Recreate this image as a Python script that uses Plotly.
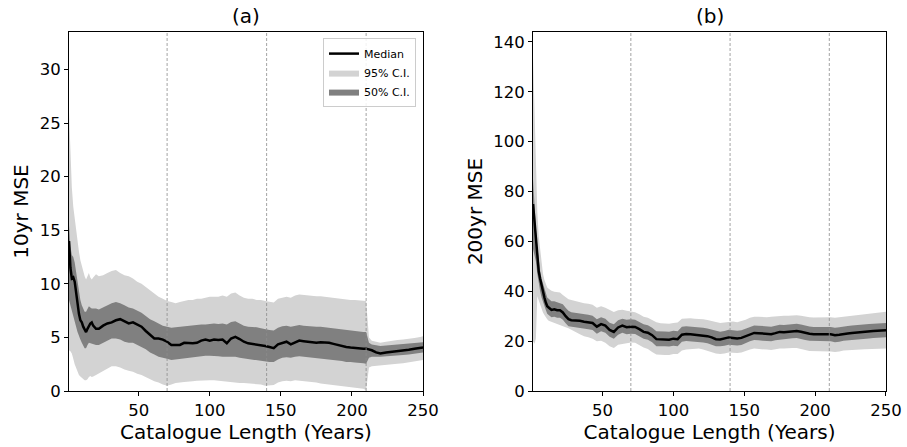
import plotly.graph_objects as go

# ---------------- Panel (a): 10yr MSE ----------------
xa = [1, 2, 3, 4, 5, 6, 7, 8, 9, 10,
      11, 12, 13, 14, 15, 16, 17, 18, 20, 22,
      25, 28, 31, 34, 37, 40, 43, 46, 49, 52,
      55, 58, 61, 64, 67, 70, 73, 76, 79, 82,
      85, 88, 91, 94, 97, 100, 103, 106, 109, 112,
      115, 118, 121, 124, 127, 130, 133, 136, 139, 142,
      145, 148, 151, 154, 157, 160, 163, 166, 169, 172,
      175, 178, 181, 184, 187, 190, 193, 196, 199, 202,
      205, 208, 210, 212, 214, 217, 220, 224, 228, 232,
      236, 240, 244, 248, 250]
med_a = [14.0, 11.5, 10.5, 10.6, 10.2, 9.0, 8.0, 7.2, 6.6, 6.4,
         6.0, 5.7, 5.5, 5.8, 6.1, 6.3, 6.4, 6.1, 5.8, 5.8,
         6.1, 6.3, 6.4, 6.6, 6.7, 6.5, 6.3, 6.4, 6.2, 6.0,
         5.6, 5.2, 4.9, 4.9, 4.8, 4.6, 4.3, 4.3, 4.3, 4.5,
         4.45, 4.45, 4.5, 4.7, 4.8, 4.7, 4.8, 4.75, 4.8, 4.45,
         4.9, 5.05, 4.85, 4.6, 4.45, 4.4, 4.35, 4.3, 4.2, 4.1,
         4.0, 4.35, 4.45, 4.6, 4.35, 4.55, 4.7, 4.65, 4.6, 4.55,
         4.5, 4.55, 4.55, 4.5, 4.4, 4.3, 4.15, 4.1, 4.05, 4.0,
         3.95, 3.95, 3.95, 3.9, 3.8, 3.6, 3.5, 3.6, 3.65, 3.7,
         3.8, 3.85, 3.95, 4.0, 4.05]
hi95_a = [26.0, 21.5, 19.0, 17.2, 16.0, 15.0, 14.0, 13.0, 12.2, 11.6,
          11.0, 10.7, 10.4, 10.8, 11.0, 10.6, 10.4, 10.6, 10.9, 10.7,
          10.8, 11.0, 11.2, 11.3, 11.0, 10.8, 10.7, 10.5, 10.2, 10.0,
          9.7, 9.4, 9.1, 8.8, 8.6, 8.4, 8.3, 8.2, 8.3, 8.4,
          8.5, 8.5, 8.6, 8.6, 8.7, 8.8, 8.8, 8.8, 8.9, 8.8,
          9.1, 9.2, 8.9, 8.7, 8.6, 8.6, 8.5, 8.5, 8.4, 8.3,
          8.25, 8.6, 8.7, 8.8, 8.7, 8.9, 9.0, 8.95, 8.9, 8.9,
          8.85, 8.85, 8.8, 8.75, 8.7, 8.6, 8.6, 8.55, 8.5, 8.5,
          8.45, 8.45, 8.4, 5.0, 4.7, 4.6, 4.5, 4.6, 4.7, 4.75,
          4.8, 4.85, 4.95, 5.05, 5.1]
lo95_a = [3.8, 3.7, 3.5, 3.0, 2.5, 2.1, 1.8, 1.5, 1.35, 1.2,
          1.1, 1.0, 1.0, 1.1, 1.3, 1.4, 1.3, 1.35, 1.5, 1.7,
          1.9, 2.1, 2.3, 2.3, 2.2, 2.0, 1.9, 1.8, 1.6, 1.5,
          1.3, 1.1, 0.9, 0.8, 0.6, 0.5, 0.6, 0.75, 0.8, 0.85,
          0.9, 0.9, 0.95, 0.95, 1.0, 1.0, 1.0, 0.95, 0.9, 0.85,
          0.8, 0.8, 0.75, 0.75, 0.7, 0.7, 0.65, 0.6, 0.5, 0.5,
          0.55, 0.8, 0.9, 0.95, 0.9, 1.0, 1.0, 0.95, 0.9, 0.85,
          0.8, 0.7, 0.6, 0.55, 0.5, 0.45, 0.4, 0.35, 0.3, 0.3,
          0.25, 0.2, 0.1, 2.2, 2.3, 2.35, 2.4, 2.45, 2.5, 2.55,
          2.6, 2.65, 2.75, 2.85, 2.9]
hi50_a = [15.5, 13.5, 12.7, 12.5, 12.0, 11.0, 10.0, 9.1, 8.5, 8.0,
          7.7, 7.4, 7.4, 7.7, 7.9, 7.8, 7.7, 7.7, 7.7, 7.6,
          7.8, 8.0, 8.2, 8.3, 8.2, 8.0, 7.8, 7.7, 7.5, 7.3,
          7.0, 6.7, 6.5, 6.3, 6.1, 6.0, 5.9, 5.95, 6.0, 6.05,
          6.1, 6.1, 6.15, 6.2, 6.2, 6.25, 6.3, 6.25, 6.3, 6.2,
          6.45, 6.5, 6.3, 6.1, 6.0, 6.0, 5.95, 5.85, 5.75, 5.7,
          5.65, 5.9, 6.05, 6.1, 6.0, 6.1, 6.15, 6.1, 6.05, 6.0,
          6.0, 6.0, 5.95, 5.9, 5.85, 5.8, 5.7, 5.65, 5.6, 5.6,
          5.55, 5.5, 5.5, 4.5, 4.35, 4.25, 4.2, 4.25, 4.3, 4.3,
          4.35, 4.4, 4.45, 4.5, 4.55]
lo50_a = [8.5, 8.0, 7.5, 7.0, 6.5, 6.0, 5.5, 5.1, 4.8, 4.5,
          4.2, 4.0, 4.0, 4.3, 4.5, 4.5, 4.4, 4.4, 4.3, 4.3,
          4.5, 4.7, 4.9, 4.9, 4.8, 4.6, 4.5, 4.5, 4.3, 4.1,
          3.9, 3.6, 3.4, 3.2, 3.1, 3.0, 2.9, 2.9, 2.95, 3.05,
          3.1, 3.15, 3.2, 3.25, 3.3, 3.3, 3.3, 3.25, 3.2, 3.15,
          3.2, 3.2, 3.1, 3.0, 2.95, 2.9, 2.85, 2.8, 2.75, 2.7,
          2.7, 2.95, 3.1, 3.15, 3.1, 3.2, 3.25, 3.2, 3.15, 3.1,
          3.05, 3.0, 3.0, 2.95, 2.9, 2.85, 2.8, 2.7, 2.7, 2.65,
          2.6, 2.6, 2.55, 3.1, 3.2, 3.2, 3.2, 3.25, 3.3, 3.3,
          3.35, 3.4, 3.45, 3.55, 3.6]

# ---------------- Panel (b): 200yr MSE ----------------
xb = [1, 2, 3, 4, 5, 6, 7, 8, 9, 10,
      11, 12, 14, 16, 18, 20, 22, 24, 26, 28,
      31, 34, 37, 40, 43, 46, 49, 52, 55, 58,
      61, 64, 67, 70, 73, 76, 79, 82, 85, 88,
      91, 94, 97, 100, 103, 106, 109, 112, 115, 118,
      121, 124, 127, 130, 133, 136, 139, 142, 145, 148,
      151, 154, 157, 160, 163, 166, 169, 172, 175, 178,
      181, 184, 187, 190, 193, 196, 199, 202, 205, 208,
      211, 214, 217, 220, 223, 226, 229, 232, 235, 238,
      241, 244, 247, 250]
med_b = [75, 68, 60, 53, 48, 45, 42, 39.5, 37.5, 35.5,
         34, 33.5, 32.5, 32.8, 32.4, 32.4, 31.5, 30, 28.8, 28.4,
         28.4, 28.2, 27.8, 27.6, 27.3, 25.8, 26.8, 26.2, 24.5, 23.7,
         25.5, 26.2, 25.6, 25.8, 25.7, 24.8, 23.7, 23.4, 22.4, 20.8,
         20.7, 20.8, 20.6, 21.0, 20.8, 22.6, 22.9, 22.8, 22.6, 22.4,
         22.3, 22.0, 21.5, 20.8, 20.7, 21.0, 21.5, 21.3, 21.1, 21.3,
         22.0, 22.8, 23.3, 23.2, 23.0, 22.8, 22.8, 23.2, 23.7, 23.6,
         23.8, 24.0, 24.1, 23.8, 23.3, 23.0, 22.8, 22.9, 22.8, 22.8,
         22.8, 22.4, 22.6, 23.0, 23.1, 23.3, 23.5, 23.7, 23.8, 23.9,
         24.1, 24.2, 24.4, 24.4]
hi95_b = [134, 110, 88, 72, 62, 56, 51, 47, 44.5, 42.5,
          41.5, 41, 40.2, 39.8, 39.7, 39.5, 38.5, 37.5, 36.8, 36.5,
          36.0, 35.6, 35.2, 35.0, 34.6, 33.4, 34.0, 33.4, 32.4, 31.7,
          32.4, 32.6, 32.2, 31.8, 31.6, 30.8, 29.8, 29.4, 28.6, 27.6,
          27.2, 27.0, 27.0, 27.3, 27.5, 29.0, 29.2, 29.2, 29.0, 29.0,
          28.8, 28.5, 28.0, 27.5, 27.3, 27.5, 27.8, 27.9, 27.6, 28.0,
          28.6, 29.4, 29.8, 29.8, 29.6, 29.6, 29.8, 30.0, 30.2, 30.2,
          30.2, 30.4, 30.4, 30.2, 29.8, 29.6, 29.5, 29.6, 29.5, 29.5,
          29.6, 29.4, 29.6, 29.9, 30.1, 30.3, 30.6, 30.8, 31.0, 31.2,
          31.4, 31.6, 31.7, 31.8]
lo95_b = [20, 19, 21, 38, 36, 34.5, 33, 31.5, 30.5, 29.5,
          28.8, 28.2, 27.6, 27.2, 26.8, 26.4, 26, 25.6, 25.2, 24.6,
          23.8, 22.8, 22.0, 21.6, 21.0, 20.0, 20.2, 19.4, 18.0, 17.2,
          18.6, 19.0, 19.2, 19.5, 19.4, 18.4, 17.4, 16.8, 15.6, 14.6,
          14.4, 14.4, 14.4, 14.8, 14.8, 16.2, 16.6, 16.8, 16.9, 17.0,
          16.6, 16.0, 15.6, 15.0, 14.8, 15.0, 15.4, 15.4, 15.2, 15.4,
          16.0, 16.6, 17.0, 17.0, 16.8, 16.6, 16.4, 16.6, 17.0, 17.0,
          17.0, 17.2, 17.2, 16.8, 16.4, 16.0, 15.8, 15.9, 15.8, 15.8,
          15.8, 15.6, 15.8, 16.2, 16.3, 16.4, 16.5, 16.6, 16.7, 16.8,
          16.9, 17.0, 17.0, 17.0]
hi50_b = [85, 74, 65, 58, 52, 48, 45, 43, 41, 39,
          37.5, 37, 36, 36, 35.6, 35.4, 34.8, 33.4, 32.2, 31.6,
          31.4, 31.2, 30.8, 30.6, 30.2, 28.8, 29.6, 29.0, 27.4, 26.8,
          28.4, 29.0, 28.6, 28.8, 28.6, 27.8, 26.8, 26.4, 25.4, 24.0,
          23.8, 23.9, 23.8, 24.2, 24.0, 25.8, 26.0, 25.9, 25.8, 25.6,
          25.4, 25.1, 24.6, 24.0, 23.8, 24.1, 24.6, 24.4, 24.2, 24.4,
          25.0, 25.8, 26.3, 26.2, 26.0, 25.8, 25.8, 26.2, 26.6, 26.5,
          26.7, 26.9, 27.0, 26.7, 26.2, 25.9, 25.7, 25.8, 25.7, 25.7,
          25.7, 25.4, 25.6, 26.0, 26.1, 26.3, 26.5, 26.7, 26.8, 26.9,
          27.0, 27.1, 27.3, 27.3]
lo50_b = [57, 55, 52, 47, 43, 40, 37.5, 35.5, 34, 32.5,
          31, 30.5, 29.6, 29.8, 29.4, 29.4, 28.6, 27.2, 26.0, 25.6,
          25.6, 25.4, 25.0, 24.8, 24.5, 23.0, 24.0, 23.4, 21.8, 21.0,
          22.6, 23.4, 22.8, 23.0, 22.9, 22.0, 21.0, 20.6, 19.6, 18.0,
          17.9, 18.0, 17.8, 18.2, 18.0, 19.8, 20.1, 20.0, 19.8, 19.6,
          19.5, 19.2, 18.7, 18.0, 17.9, 18.2, 18.6, 18.5, 18.3, 18.5,
          19.2, 20.0, 20.5, 20.4, 20.2, 20.0, 20.0, 20.4, 20.9, 20.8,
          21.0, 21.2, 21.3, 21.0, 20.5, 20.2, 20.0, 20.1, 20.0, 20.0,
          20.0, 19.6, 19.8, 20.2, 20.3, 20.5, 20.7, 20.9, 21.0, 21.1,
          21.3, 21.4, 21.6, 21.6]

vlines = [70, 140, 210]
xticks = [50, 100, 150, 200, 250]
yticks_a = [0, 5, 10, 15, 20, 25, 30]
yticks_b = [0, 20, 40, 60, 80, 100, 120, 140]

LIGHT = "#d3d3d3"
DARK = "#808080"
FONT = "DejaVu Sans"

fig = go.Figure()


def add_panel(x, med, hi95, lo95, hi50, lo50, xa_name, ya_name, show):
    fig.add_trace(go.Scatter(
        x=list(x) + list(x)[::-1], y=list(hi95) + list(lo95)[::-1],
        fill="toself", fillcolor=LIGHT, line=dict(width=0),
        mode="lines", name="95% C.I.", showlegend=show, legendrank=2,
        xaxis=xa_name, yaxis=ya_name, hoverinfo="skip"))
    fig.add_trace(go.Scatter(
        x=list(x) + list(x)[::-1], y=list(hi50) + list(lo50)[::-1],
        fill="toself", fillcolor=DARK, line=dict(width=0),
        mode="lines", name="50% C.I.", showlegend=show, legendrank=3,
        xaxis=xa_name, yaxis=ya_name, hoverinfo="skip"))
    fig.add_trace(go.Scatter(
        x=x, y=med, mode="lines", line=dict(color="black", width=2.5),
        name="Median", showlegend=show, legendrank=1,
        xaxis=xa_name, yaxis=ya_name))


add_panel(xa, med_a, hi95_a, lo95_a, hi50_a, lo50_a, "x", "y", True)
add_panel(xb, med_b, hi95_b, lo95_b, hi50_b, lo50_b, "x2", "y2", False)

for xref, yref in (("x", "y domain"), ("x2", "y2 domain")):
    for v in vlines:
        fig.add_shape(type="line", xref=xref, yref=yref, x0=v, x1=v, y0=0, y1=1,
                      line=dict(color="#8c8c8c", width=0.8, dash="3px,2px"),
                      layer="above")

axis_common = dict(
    showline=True, linecolor="black", linewidth=1, mirror=True,
    ticks="outside", ticklen=4, tickwidth=1, tickcolor="black",
    showgrid=False, zeroline=False, automargin=False,
    tickfont=dict(family=FONT, size=16.5, color="black"),
)

fig.update_layout(
    width=907, height=447,
    margin=dict(l=69, r=21, t=32, b=56, autoexpand=False),
    paper_bgcolor="white", plot_bgcolor="white",
    font=dict(family=FONT, color="black"),
    xaxis=dict(domain=[0, 0.4333], range=[1, 250], tickvals=xticks,
               title=dict(text="Catalogue Length (Years)", font=dict(size=20), standoff=2),
               anchor="y", **axis_common),
    yaxis=dict(domain=[0, 1], range=[0, 33.5], tickvals=yticks_a,
               title=dict(text="10yr MSE", font=dict(size=20), standoff=5),
               anchor="x", **axis_common),
    xaxis2=dict(domain=[0.568, 1], range=[1, 250], tickvals=xticks,
                title=dict(text="Catalogue Length (Years)", font=dict(size=20), standoff=2),
                anchor="y2", **axis_common),
    yaxis2=dict(domain=[0, 1], range=[0, 144], tickvals=yticks_b,
                title=dict(text="200yr MSE", font=dict(size=20), standoff=5),
                anchor="x2", **axis_common),
    legend=dict(x=0.4247, y=0.983, xanchor="right", yanchor="top",
                bgcolor="rgba(255,255,255,0.85)", bordercolor="#cccccc", borderwidth=1,
                font=dict(family=FONT, size=11, color="black"),
                tracegroupgap=0, itemwidth=30),
    showlegend=True,
    annotations=[
        dict(text="(a)", x=0.21665, y=1.0, xref="paper", yref="paper",
             xanchor="center", yanchor="bottom", yshift=2, showarrow=False,
             font=dict(family=FONT, size=20, color="black")),
        dict(text="(b)", x=0.784, y=1.0, xref="paper", yref="paper",
             xanchor="center", yanchor="bottom", yshift=2, showarrow=False,
             font=dict(family=FONT, size=20, color="black")),
    ],
)

fig.write_html("out.html")
